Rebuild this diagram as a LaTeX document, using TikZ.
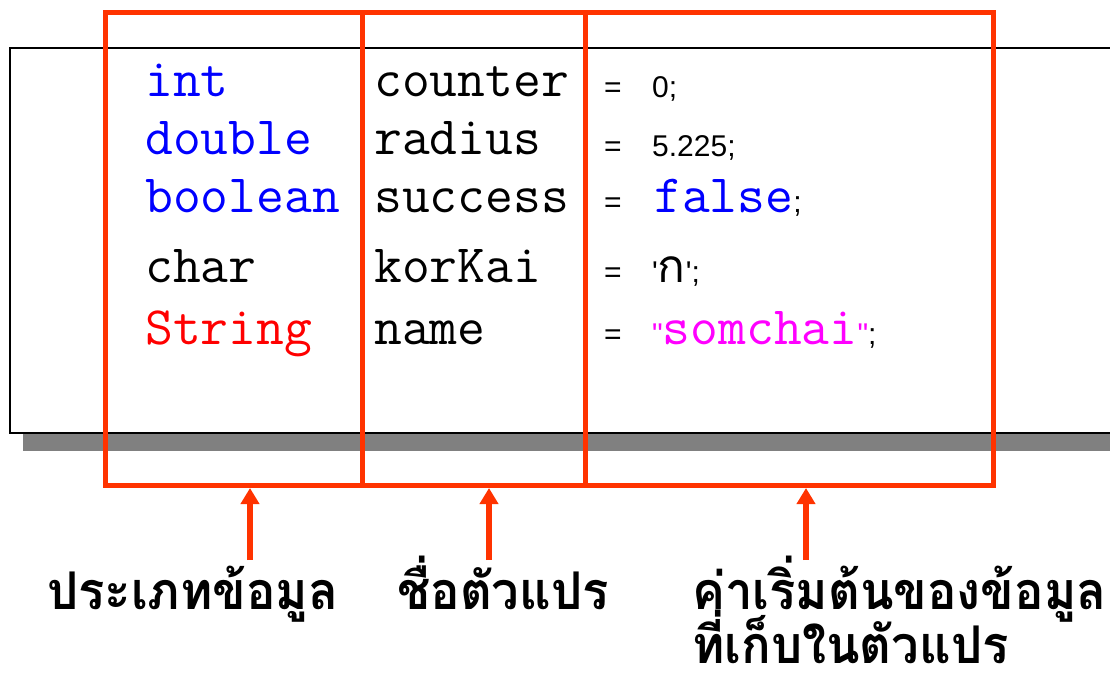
\documentclass[tikz,border=0pt]{standalone}
\usepackage{fontspec}
\usetikzlibrary{arrows.meta}
\setmainfont{Liberation Sans}
\newfontfamily\thaifont[Script=Thai]{Loma}
\newfontfamily\labelfont[Script=Thai,BoldFont={Loma Bold},FakeStretch=0.945]{Loma}
\newcommand\codesize{\ttfamily\fontsize{54}{54}\selectfont}

\definecolor{frame}{RGB}{255,51,0}
\definecolor{kw}{RGB}{0,0,255}
\definecolor{strtype}{RGB}{255,0,0}
\definecolor{strval}{RGB}{255,0,255}
\definecolor{panelshadow}{RGB}{128,128,128}

\tikzset{
  code/.style={font=\codesize, anchor=base west, inner sep=0pt},
  val/.style={font=\fontsize{30}{30}\selectfont, anchor=base west, inner sep=0pt},
  lbl/.style={font=\labelfont\bfseries\fontsize{52}{55}\selectfont, anchor=base west, inner sep=0pt, text depth=2pt},
  colbox/.style={draw=frame, line width=5pt, rectangle, inner sep=0pt},
  pointer/.style={draw=frame, line width=6pt, -{Triangle[length=16pt,width=18pt]}},
}

\begin{document}
\begin{tikzpicture}[x=1pt,y=-1pt]
\useasboundingbox (0,0) rectangle (1110,673);
\clip (0,0) rectangle (1110,673);

% code panel with its drop shadow
\fill[panelshadow] (23,61) rectangle (1130,451);
\draw[fill=white, line width=1.5pt] (10,48) rectangle (1130,433);

% column 1: types
\node[code, kw]      (t1) at (145,96)  {int};
\node[code, kw]      (t2) at (145,154) {double};
\node[code, kw]      (t3) at (145,212) {boolean};
\node[code]          (t4) at (145,282) {char};
\node[code, strtype] (t5) at (145,344) {String};

% column 2: names
\node[code] (n1) at (374,96)  {counter};
\node[code] (n2) at (374,154) {radius};
\node[code] (n3) at (374,212) {success};
\node[code] (n4) at (374,282) {korKai};
\node[code] (n5) at (374,344) {name};

% column 3: initial values
\node[val] (e1) at (604,97)  {=};
\node[val] (e2) at (604,156) {=};
\node[val] (e3) at (604,212) {=};
\node[val] (e4) at (604,282) {=};
\node[val] (e5) at (604,344) {=};
\node[val] (v1) at (652,97)  {0;};
\node[val] (v2) at (652,156) {5.225;};
\node[val] (v3) at (654,212) {{\codesize\color{kw}false};};
\node[val] (v4) at (652,282) {\textquotesingle{\thaifont\fontsize{46}{46}\selectfont ก}\textquotesingle;};
\node[val] (v5) at (652,344) {{\color{strval}\textquotedbl{\codesize somchai}\textquotedbl};};

% the three column frames
\node[colbox, minimum width=256.5pt, minimum height=473pt] (typebox)  at (233.75,249) {};
\node[colbox, minimum width=223.5pt, minimum height=473pt] (namebox)  at (473.75,249) {};
\node[colbox, minimum width=407.8pt, minimum height=473pt] (valuebox) at (789.4,249)  {};

% captions
\node[lbl] (c1)  at (47,609)  {ประเภทข้อมูล};
\node[lbl] (c2)  at (397,609) {ชื่อตัวแปร};
\node[lbl] (c3)  at (692,609) {ค่าเริ่มต้นของข้อมูล};
\node[lbl] (c3b) at (692,663) {ที่เก็บในตัวแปร};

% pointers from captions to frames
\coordinate (p1) at (250,560);
\coordinate (p2) at (489,560);
\coordinate (p3) at (806,560);
\draw[pointer] (p1) -- (p1 |- typebox.south);
\draw[pointer] (p2) -- (p2 |- namebox.south);
\draw[pointer] (p3) -- (p3 |- valuebox.south);
\end{tikzpicture}
\end{document}
